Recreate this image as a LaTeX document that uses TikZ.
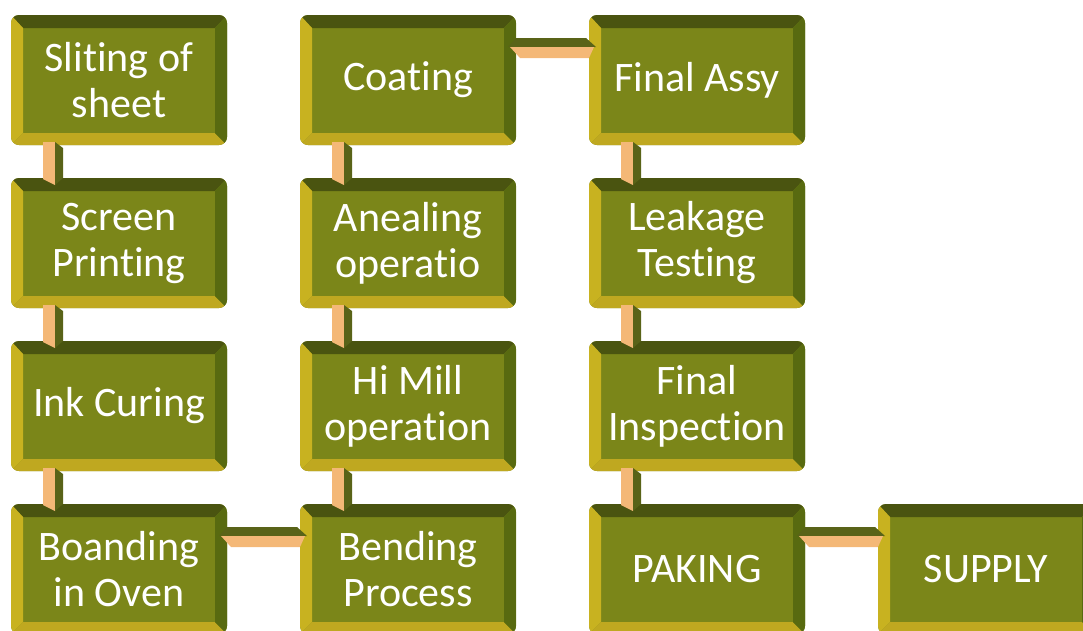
\documentclass[tikz,border=0pt]{standalone}
\usepackage{fontspec}
\setmainfont{Carlito}[Ligatures=CommonOff, Contextuals=AlternateOff, RawFeature={-clig;-dlig}]
\usetikzlibrary{positioning}
\definecolor{face}{HTML}{7B8619}
\definecolor{bevtop}{HTML}{4A5410}
\definecolor{bevright}{HTML}{586A10}
\definecolor{bevleft}{HTML}{C8B220}
\definecolor{bevbottom}{HTML}{BFA820}
\definecolor{linklight}{HTML}{F4B877}
\definecolor{linkdark}{HTML}{596318}
\tikzset{
	stage/.style={
		rectangle, rounded corners=8pt, fill=face,
		minimum width=216pt, minimum height=130pt, inner sep=0pt, outer sep=0pt,
		text=white, align=center, font=\fontsize{42}{46}\selectfont
	},
	below gap/.style={below=33pt of #1},
	right gap/.style={right=73pt of #1}
}
% bevelled rim of a stage
\newcommand{\bevel}[1]{
	\begin{scope}
		\clip[rounded corners=8pt] (#1.north west) rectangle (#1.south east);
		\fill[bevtop] (#1.north west) -- (#1.north east) -- ([shift={(-12pt,-13pt)}]#1.north east) -- ([shift={(12pt,-13pt)}]#1.north west) -- cycle;
		\fill[bevleft] (#1.north west) -- ([shift={(12pt,-13pt)}]#1.north west) -- ([shift={(12pt,12pt)}]#1.south west) -- (#1.south west) -- cycle;
		\fill[bevbottom] (#1.south west) -- ([shift={(12pt,12pt)}]#1.south west) -- ([shift={(-12pt,12pt)}]#1.south east) -- (#1.south east) -- cycle;
		\fill[bevright] (#1.north east) -- (#1.south east) -- ([shift={(-12pt,12pt)}]#1.south east) -- ([shift={(-12pt,-13pt)}]#1.north east) -- cycle;
	\end{scope}
}
% links between the stages
\newcommand{\vlink}[2]{
	\fill[linklight] ([shift={(32pt,3pt)}]#1.south west) -- ([shift={(44pt,3pt)}]#1.south west)
		-- ([shift={(44pt,-7pt)}]#2.north west) -- ([shift={(32pt,-1pt)}]#2.north west) -- cycle;
	\fill[linkdark] ([shift={(44pt,3pt)}]#1.south west) -- ([shift={(52pt,-3pt)}]#1.south west)
		-- ([shift={(52pt,0pt)}]#2.north west) -- ([shift={(44pt,-7pt)}]#2.north west) -- cycle;
}
\newcommand{\hlink}[2]{
	\fill[linkdark] ([shift={(0pt,-23pt)}]#1.north east) -- ([shift={(-3pt,-23pt)}]#2.north west)
		-- ([shift={(7pt,-32pt)}]#2.north west) -- ([shift={(-8pt,-32pt)}]#1.north east) -- cycle;
	\fill[linklight] ([shift={(-6pt,-32pt)}]#1.north east) -- ([shift={(5pt,-32pt)}]#2.north west)
		-- ([shift={(0pt,-43pt)}]#2.north west) -- ([shift={(4pt,-43pt)}]#1.north east) -- cycle;
}

\begin{document}
\begin{tikzpicture}
	\useasboundingbox (0,0) rectangle (1083pt,-630pt);
	\clip (0,0) rectangle (1083pt,-630pt);
	% the process stages
	\node[stage] (slit) at (119pt,-80pt) {Sliting of\\sheet};
	\node[stage, below gap=slit] (screen) {Screen\\Printing};
	\node[stage, below gap=screen] (ink) {Ink Curing};
	\node[stage, below gap=ink] (bond) {Boanding\\in Oven};
	\node[stage, right gap=slit] (coat) {Coating};
	\node[stage, below gap=coat] (aneal) {Anealing\\operatio};
	\node[stage, below gap=aneal] (himill) {Hi Mill\\operation};
	\node[stage, below gap=himill] (bend) {Bending\\Process};
	\node[stage, right gap=coat] (assy) {Final Assy};
	\node[stage, below gap=assy] (leak) {Leakage\\Testing};
	\node[stage, below gap=leak] (insp) {Final\\Inspection};
	\node[stage, below gap=insp] (pack) {PAKING};
	\node[stage, right gap=pack] (supply) {SUPPLY};
	\foreach \s in {slit,screen,ink,bond,coat,aneal,himill,bend,assy,leak,insp,pack,supply}
		{\bevel{\s}}
	% the links
	\vlink{slit}{screen}
	\vlink{screen}{ink}
	\vlink{ink}{bond}
	\hlink{bond}{bend}
	\vlink{himill}{bend}
	\vlink{aneal}{himill}
	\vlink{coat}{aneal}
	\hlink{coat}{assy}
	\vlink{assy}{leak}
	\vlink{leak}{insp}
	\vlink{insp}{pack}
	\hlink{pack}{supply}
\end{tikzpicture}
\end{document}
